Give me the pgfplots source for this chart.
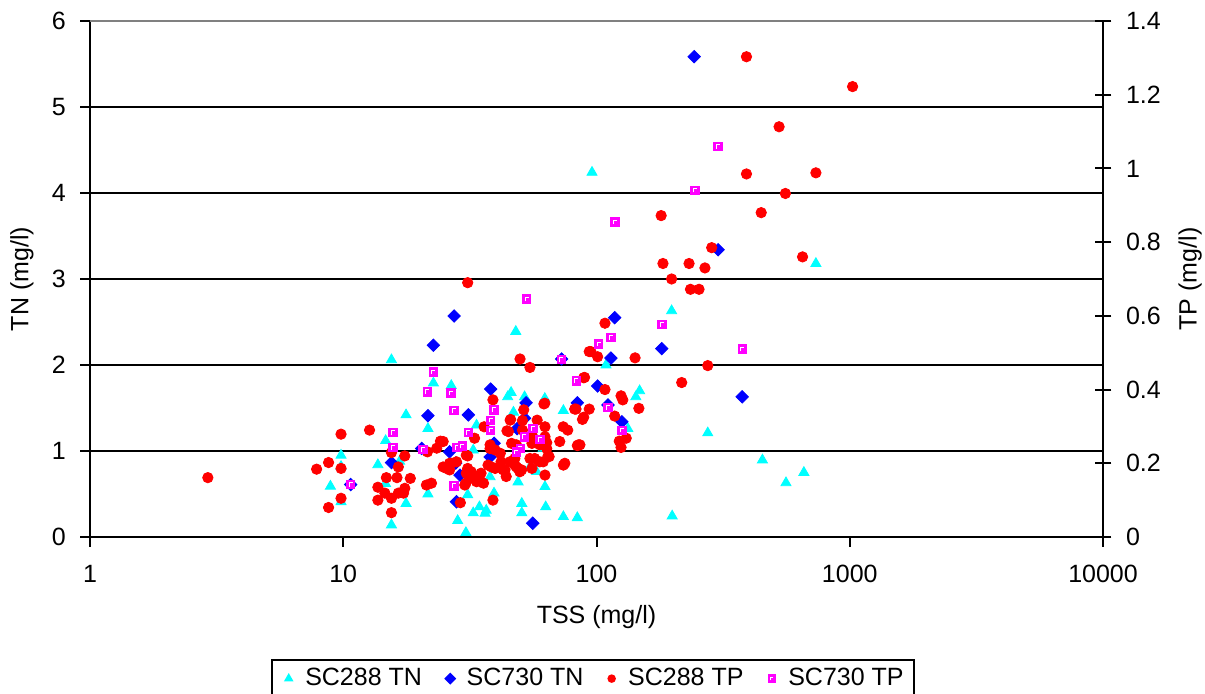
\documentclass[border=0pt]{standalone}
\usepackage{pgfplots}
\pgfplotsset{compat=1.18}
\usepackage{fontspec}
\setmainfont{Liberation Sans}

\definecolor{xlcyan}{RGB}{0,255,255}
\definecolor{xlblue}{RGB}{0,0,255}
\definecolor{xlred}{RGB}{255,0,0}
\definecolor{xlmag}{RGB}{255,0,255}

% Excel-like square marker with a small white corner inside
\pgfdeclareplotmark{xlsq}{%
  \pgfpathrectangle{\pgfqpoint{-\pgfplotmarksize}{-\pgfplotmarksize}}{\pgfqpoint{2\pgfplotmarksize}{2\pgfplotmarksize}}%
  \pgfusepathqfillstroke
  \begin{pgfscope}
    \pgfsetstrokecolor{white}\pgfsetlinewidth{0.45pt}%
    \pgfpathmoveto{\pgfqpoint{-0.4\pgfplotmarksize}{-0.55\pgfplotmarksize}}%
    \pgfpathlineto{\pgfqpoint{-0.4\pgfplotmarksize}{0.45\pgfplotmarksize}}%
    \pgfpathlineto{\pgfqpoint{0.45\pgfplotmarksize}{0.45\pgfplotmarksize}}%
    \pgfusepathqstroke
  \end{pgfscope}
}

\tikzset{
  sTN/.style={mark=triangle*, mark size=2.9pt, color=xlcyan},
  vTN/.style={mark=square*, mark size=2.2pt, color=xlblue, mark options={rotate=45}},
  sTP/.style={mark=*, mark size=2.6pt, color=xlred},
  vTP/.style={mark=xlsq, mark size=2.1pt, color=xlmag},
}

\begin{document}
\begin{tikzpicture}
\fontsize{12.5}{15}\selectfont
\path[use as bounding box] (-45pt,-78.5pt) rectangle (557.5pt,268.5pt);

\begin{axis}[
  width=506.5pt, height=258pt, scale only axis,
  xmode=log, xmin=1, xmax=10000, xminorticks=false,
  /pgf/number format/assume math mode=true,
  tick label style={font=\fontsize{12.5}{15}\selectfont},
  label style={font=\fontsize{12.5}{15}\selectfont},
  axis line style={-, line width=1.1pt, black},
  tick style={black, line width=1pt},
  ymin=0, ymax=6, ytick={0,1,2,3,4,5,6},
  xtick={1,10,100,1000,10000}, xticklabels={1,10,100,1000,10000},
  axis x line*=bottom, axis y line*=left,
  tick align=outside, major tick length=4.8pt,
  ymajorgrids, grid style={black, line width=0.6pt},
  xlabel={TSS (mg/l)}, ylabel={TN (mg/l)},
  every axis x label/.style={at={(axis description cs:0.5,-0.155)}, anchor=center},
  every axis y label/.style={at={(axis description cs:-0.0672,0.5)}, rotate=90, anchor=center},
  yticklabel style={xshift=-3pt},
  xticklabel style={yshift=-5pt},
]
% SC288 TN
\addplot[only marks, sTN] coordinates {
(15.5,2.06)(14.7,1.12)(13.7,0.84)(14.7,0.62)(15.5,0.14)(9.8,0.95)(9.8,0.82)(8.9,0.59)
(9.8,0.41)(48,2.39)(22.7,1.79)(26.7,1.76)(46,1.68)(44.6,1.63)(52,1.63)(62.5,1.61)
(17.7,1.42)(47,1.45)(74,1.47)(21.6,1.26)(33.6,1.30)(16.7,0.88)(32.6,1.01)(55,0.83)
(58,0.76)(49,0.64)(62.6,0.585)(38,0.70)(31,0.49)(39.4,0.51)(21.6,0.50)(17.7,0.39)
(34.5,0.35)(36.7,0.31)(32.6,0.28)(36.3,0.275)(50.7,0.39)(50.7,0.28)(63,0.35)(74,0.236)
(84,0.224)(28.3,0.19)(30.5,0.05)(109,2.0)(148,1.70)(143,1.63)(133,1.26)(275,1.21)
(452,0.895)(659,0.75)(560,0.63)(199,0.244)(96,4.24)(198,2.63)(735,3.18)(61.6,1.03)
};
% SC730 TN
\addplot[only marks, vTN] coordinates {
(10.7,0.61)(15.5,0.865)(22.7,2.23)(72.8,2.07)(38.2,1.72)(52.7,1.56)(84,1.56)(31.2,1.42)
(21.6,1.41)(48.6,1.26)(52,1.38)(39.4,1.09)(26.3,0.99)(20.4,1.03)(27.8,0.86)(28.9,0.72)
(28,0.41)(56,0.16)(38,0.93)(114,2.08)(181,2.19)(101,1.756)(376,1.63)(111,1.535)
(126,1.34)(27.4,2.57)(118,2.55)(243,5.585)(302,3.34)
};
\draw[gray, line width=0.6pt] (rel axis cs:0,1) -- (rel axis cs:1,1);
\end{axis}

\begin{axis}[
  width=506.5pt, height=258pt, scale only axis,
  xmode=log, xmin=1, xmax=10000, xminorticks=false,
  /pgf/number format/assume math mode=true,
  tick label style={font=\fontsize{12.5}{15}\selectfont},
  label style={font=\fontsize{12.5}{15}\selectfont},
  axis line style={-, line width=1.1pt, black},
  tick style={black, line width=1pt},
  ymin=0, ymax=1.4, ytick={0,0.2,0.4,0.6,0.8,1,1.2,1.4},
  xtick=\empty,
  axis x line=none, axis y line*=right,
  tick align=center, major tick length=8.3pt,
  ylabel={TP (mg/l)},
  every axis y label/.style={at={(axis description cs:1.0859,0.5)}, rotate=90, anchor=center},
  yticklabel style={xshift=3pt},
  legend style={at={(axis description cs:0.4966,-0.2365)}, anchor=north,
    legend columns=4, draw=black, line width=1pt,
    font=\fontsize{12.5}{15}\selectfont,
    /tikz/every even column/.append style={column sep=7pt}},
  legend cell align=left,
  legend image code/.code={\path[draw=none] (0cm,0cm) -- (0.4cm,0cm);
    \draw[#1] plot coordinates {(0.18cm,0cm)};},
]
\addlegendimage{only marks, sTN, mark size=1.8pt}
\addlegendentry{SC288 TN}
\addlegendimage{only marks, vTN, mark size=1.6pt}
\addlegendentry{SC730 TN}
\addlegendimage{only marks, sTP, mark size=1.6pt}
\addlegendentry{SC288 TP}
\addlegendimage{only marks, vTP, mark size=1.6pt}
\addlegendentry{SC730 TP}
% SC288 TP
\addplot[only marks, sTP, forget plot] coordinates {
(2.92,0.161)(9.8,0.279)(12.7,0.290)(8.75,0.202)(7.85,0.184)(9.8,0.186)(9.8,0.105)(8.75,0.08)
(15.5,0.229)(14.8,0.161)(16.3,0.161)(13.7,0.135)(14.6,0.119)(13.7,0.100)(15.5,0.105)(15.5,0.066)
(16.5,0.19)(16.5,0.119)
(49.9,0.483)(54.6,0.46)(93.6,0.503)(89,0.432)(39,0.372)(62,0.361)(51.6,0.345)(82,0.347)
(93.6,0.347)(45.8,0.319)(51,0.316)(58.3,0.317)(89,0.325)(36,0.299)(44.3,0.288)(51,0.290)
(62.6,0.299)(73.9,0.299)(77,0.290)(33,0.268)(24.2,0.260)(56,0.272)(62.6,0.272)(71.6,0.259)
(84.8,0.25)(63.6,0.256)(38,0.25)(23.4,0.241)(21.5,0.231)(17.5,0.22)(31,0.22)(28,0.204)
(24.8,0.19)(26.3,0.2)(26.3,0.182)(31,0.186)(30.6,0.173)(31.6,0.159)(35,0.173)(35,0.150)
(42,0.204)(43.5,0.182)(47.6,0.213)(47.6,0.195)(49,0.186)(54.6,0.213)(57,0.213)(61.6,0.204)
(64.4,0.22)(75,0.200)(74,0.195)(62.6,0.168)(35.8,0.146)(33.6,0.15)(30.5,0.146)(44,0.164)
(18.4,0.159)(22.3,0.146)(21.3,0.141)(17.5,0.132)(17.3,0.119)(29,0.093)(39,0.100)
(101,0.489)(95,0.503)(142,0.486)(275,0.465)(217,0.419)(108,0.40)(125,0.383)(127,0.372)
(147,0.349)(88,0.319)(118,0.328)(131,0.268)(123,0.26)(125,0.243)(86,0.25)(108,0.58)
(31,0.69)(180,0.872)(183,0.742)(232,0.742)(198,0.70)(235,0.672)(254,0.672)(391,1.303)
(1026,1.222)(526,1.113)(391,0.985)(735,0.988)(557,0.932)(447,0.88)(285,0.785)(651,0.760)
(268,0.73)
(44.9,0.286)(45.6,0.317)(38,0.24)(39.8,0.236)(41.7,0.227)(46.2,0.254)(48.3,0.25)(55.6,0.254)
(59.7,0.25)(63.6,0.24)(30.6,0.222)(24.8,0.259)(26.7,0.2)(25.6,0.186)(32,0.177)(33,0.164)
(37.3,0.195)(38.5,0.19)(39.8,0.186)(42.8,0.182)(45.5,0.204)(48.3,0.19)(50.6,0.182)(59.7,0.204)
(65,0.218)(55.6,0.186)(49.8,0.177)(30.2,0.141)(84,0.248)(89.7,0.433)(62.5,0.363)(83,0.347)
};
% SC730 TP
\addplot[only marks, vTP, forget plot] coordinates {
(10.7,0.143)(15.7,0.284)(15.7,0.243)(72.8,0.482)(22.7,0.448)(21.5,0.394)(26.6,0.391)(83.4,0.424)
(27.3,0.343)(39.4,0.345)(38.2,0.317)(38.2,0.290)(56,0.295)(31.2,0.283)(52,0.272)(59.7,0.265)
(20.6,0.238)(28.1,0.243)(29.5,0.247)(50,0.241)(48.3,0.231)(27.3,0.139)(102,0.524)(114,0.542)
(377,0.51)(111,0.351)(126,0.29)(245,0.941)(118,0.855)(53,0.646)(181,0.577)(301,1.059)
};
\end{axis}
\end{tikzpicture}
\end{document}
